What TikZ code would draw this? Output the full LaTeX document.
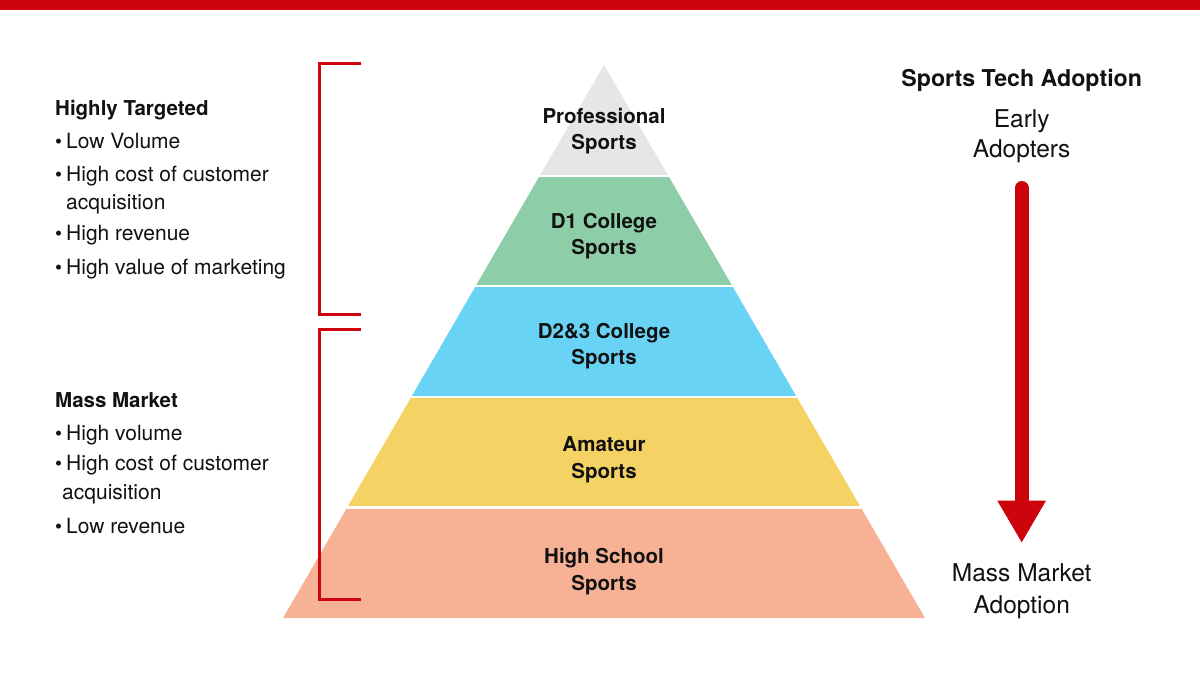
\documentclass[tikz,border=0pt]{standalone}
\usepackage{fontspec}
\setmainfont{TeX Gyre Heros}
\definecolor{vred}{HTML}{CD040B}
\definecolor{cpro}{HTML}{E6E6E5}
\definecolor{cdone}{HTML}{8DCDA8}
\definecolor{cdtwo}{HTML}{68D3F5}
\definecolor{camat}{HTML}{F5D264}
\definecolor{chs}{HTML}{F7B296}
\definecolor{ink}{HTML}{111111}
\newcommand{\myblt}{\makebox[11pt][l]{\fontsize{20}{20}\selectfont\raisebox{0pt}{\textbullet}}}
\begin{document}
\begin{tikzpicture}[x=1pt,y=-1pt,
  lbl/.style={font=\fontsize{20.5}{24}\selectfont\bfseries, text=ink, inner sep=0pt, anchor=base},
  ttl/.style={font=\fontsize{20.5}{24}\selectfont\bfseries, text=ink, inner sep=0pt, anchor=base west},
  itm/.style={font=\fontsize{21}{24}\selectfont, text=ink, inner sep=0pt, anchor=base west},
  rttl/.style={font=\fontsize{23.2}{26}\selectfont\bfseries, text=ink, inner sep=0pt, anchor=base},
  rtxt/.style={font=\fontsize{24.5}{28}\selectfont, text=ink, inner sep=0pt, anchor=base},
  sep/.style={white, line width=2.2pt},
  brk/.style={vred, line width=3pt},
  shaft/.style={vred, line width=14pt, line cap=round}]
\useasboundingbox (0,0) rectangle (1200,677);
% top bar
\fill[vred] (0,0) rectangle (1200,10);
% pyramid bands
\fill[cpro] (604,65) -- (668.2,175.6) -- (539.8,175.6) -- cycle;
\fill[cdone] (539.8,175.6) -- (668.2,175.6) -- (732.4,286.2) -- (475.6,286.2) -- cycle;
\fill[cdtwo] (475.6,286.2) -- (732.4,286.2) -- (796.6,396.8) -- (411.4,396.8) -- cycle;
\fill[camat] (411.4,396.8) -- (796.6,396.8) -- (860.8,507.4) -- (347.2,507.4) -- cycle;
\fill[chs] (347.2,507.4) -- (860.8,507.4) -- (925,618) -- (283,618) -- cycle;
\draw[sep] (530,175.6) -- (678,175.6);
\draw[sep] (465,286.2) -- (743,286.2);
\draw[sep] (400,396.8) -- (808,396.8);
\draw[sep] (335,507.4) -- (873,507.4);
% pyramid labels
\node[lbl] (proA) at (604,123) {Professional};
\node[lbl] (proB) at (604,149) {Sports};
\node[lbl] (doneA) at (604,228) {D1 College};
\node[lbl] (doneB) at (604,254) {Sports};
\node[lbl] (dtwoA) at (604,338.5) {D2\&3 College};
\node[lbl] (dtwoB) at (604,364.5) {Sports};
\node[lbl] (amatA) at (604,451) {Amateur};
\node[lbl] (amatB) at (604,478) {Sports};
\node[lbl] (hsA) at (604,563) {High School};
\node[lbl] (hsB) at (604,590) {Sports};
% brackets
\coordinate (ubA) at (361,63.3);
\coordinate (ubB) at (319.5,63.3);
\coordinate (ubC) at (319.5,314.3);
\coordinate (ubD) at (361,314.3);
\coordinate (lbA) at (361,329);
\coordinate (lbB) at (319.5,329);
\coordinate (lbC) at (319.5,599.5);
\coordinate (lbD) at (361,599.5);
\draw[brk] (ubA) -- (ubB) -- (ubC) -- (ubD);
\draw[brk] (lbA) -- (lbB) -- (lbC) -- (lbD);
% left texts
\node[ttl] (htT) at (55,115) {Highly Targeted};
\node[itm] (htA) at (55,148.3) {\myblt Low Volume};
\node[itm] (htB) at (55,181.7) {\myblt High cost of customer};
\node[itm] (htC) at (66,209) {acquisition};
\node[itm] (htD) at (55,240.7) {\myblt High revenue};
\node[itm] (htE) at (55,274) {\myblt High value of marketing};
\node[ttl] (mmT) at (55,407.3) {Mass Market};
\node[itm] (mmA) at (55,440) {\myblt High volume};
\node[itm] (mmB) at (55,470.7) {\myblt High cost of customer};
\node[itm] (mmC) at (62,499.3) {acquisition};
\node[itm] (mmD) at (55,533.3) {\myblt Low revenue};
% right texts
\node[rttl] (stA) at (1021.7,86.5) {Sports Tech Adoption};
\node[rtxt] (eaA) at (1021.7,127) {Early};
\node[rtxt] (eaB) at (1021.7,157) {Adopters};
\node[rtxt] (mmaA) at (1021.7,581.7) {Mass Market};
\node[rtxt] (mmaB) at (1021.7,613.3) {Adoption};
% arrow
\coordinate (arrTop) at (1021.7,188);
\coordinate (arrBase) at (1021.7,502);
\coordinate (arrL) at (997.3,500.7);
\coordinate (arrR) at (1046,500.7);
\coordinate (arrTip) at (1021.7,542.3);
\draw[shaft] (arrTop) -- (arrBase);
\fill[vred] (arrL) -- (arrR) -- (arrTip) -- cycle;
\end{tikzpicture}
\end{document}
